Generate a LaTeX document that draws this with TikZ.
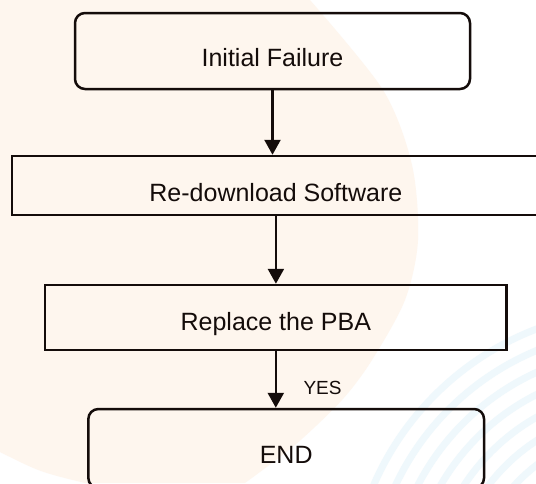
\documentclass[tikz,border=0pt]{standalone}
\usepackage{fontspec}
\setmainfont{Liberation Sans}
\usetikzlibrary{arrows.meta}
\definecolor{peach}{RGB}{254,246,238}
\definecolor{wmblue}{RGB}{239,248,252}
\definecolor{ink}{RGB}{20,12,10}
\tikzset{
  box/.style={draw=ink, line width=2.5pt, inner sep=0pt,
    font=\fontsize{25pt}{30pt}\selectfont, text=ink, text depth=0pt},
  rbox/.style={box, rounded corners=10pt},
  arr/.style={draw=ink, line width=2.5pt, -{Triangle[width=16pt,length=15pt]}},
  yes/.style={font=\fontsize{19pt}{23pt}\selectfont, text=ink, inner sep=0pt,
    anchor=base west, xshift=26.5pt}
}
\begin{document}
\begin{tikzpicture}[x=1pt,y=-1pt]
\useasboundingbox (0,0) rectangle (536,483);
\fill[white] (0,0) rectangle (536,483);
% watermark background
\begin{scope}
  \clip (0,0) rectangle (536,483);
  \foreach \r in {170,190,210,230,250,270,290}
    \draw[wmblue, line width=7pt] (640,600) circle[radius=\r pt];
  \fill[peach] (0,0) -- plot[smooth] coordinates {(310,0) (383,90) (412,165) (418,240) (405,300) (372,360) (342,400) (295,445) (245,483)}
    -- (85,483) .. controls (40,472) .. (0,452) -- cycle;
\end{scope}
% boxes
\node[rbox, minimum width=395pt, minimum height=76pt, text height=30pt] (b1) at (272.5,51) {Initial Failure};
\node[box, minimum width=528pt, minimum height=59pt, text height=31pt] (b2) at (275.9,185.5) {Re-download Software};
\node[box, minimum width=461.7pt, minimum height=65pt, text height=25pt] (b3) at (275.8,317.5) {Replace the PBA};
\node[rbox, minimum width=395.7pt, minimum height=79pt, text height=29pt] (b4) at (286.2,448.5) {END};
% connectors
\draw[arr] (b1.south) -- (b1.south |- b2.north);
\draw[arr] (b2.south) -- (b2.south |- b3.north);
\draw[arr] (b3.south) -- node[yes, pos=0.76] {YES} (b3.south |- b4.north);
\end{tikzpicture}
\end{document}
